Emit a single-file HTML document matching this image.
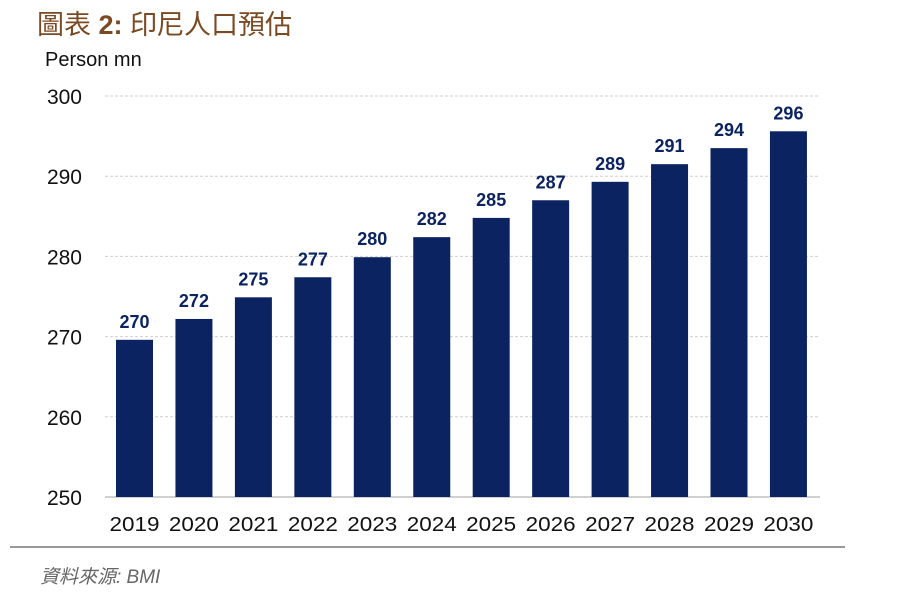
<!DOCTYPE html>
<html><head><meta charset="utf-8"><style>
body{margin:0;background:#fff;width:905px;height:608px;overflow:hidden}
svg{display:block}
</style></head><body>
<svg width="905" height="608" xmlns="http://www.w3.org/2000/svg">
<text x="37" y="34" font-family="'Liberation Sans','Noto Sans CJK TC',sans-serif" font-size="27" fill="#7B4A22">圖表 <tspan font-weight="bold">2:</tspan> 印尼人口預估</text>
<text x="45" y="66" font-family="'Liberation Sans',sans-serif" font-size="20" fill="#111">Person mn</text>
<g id="grid"></g><g id="bars"></g><g id="labels"></g>
<line x1="10" y1="547" x2="845" y2="547" stroke="#999" stroke-width="2"/>
<text x="40" y="583" font-family="'Liberation Sans','Noto Sans CJK TC',sans-serif" font-size="19" font-style="italic" fill="#666">資料來源: BMI</text>
</svg>
<script>
const years=["2019","2020","2021","2022","2023","2024","2025","2026","2027","2028","2029","2030"];
const values=[269.6,272.2,274.9,277.4,279.9,282.4,284.8,287.0,289.3,291.5,293.5,295.6];
const valueLabels=["270","272","275","277","280","282","285","287","289","291","294","296"];
const yTicks=[250,260,270,280,290,300];
const NS="http://www.w3.org/2000/svg";
const y0=497,y1=96,vmin=250,vmax=300;
const yScale=v=>y0-(v-vmin)/(vmax-vmin)*(y0-y1);
const x0=134.5,step=59.45,bw=37;
const xScale=i=>x0+i*step;
function mk(t,a,p){const e=document.createElementNS(NS,t);for(const k in a)e.setAttribute(k,a[k]);p.appendChild(e);return e;}
const grid=document.getElementById('grid'),bars=document.getElementById('bars'),labels=document.getElementById('labels');
yTicks.forEach(t=>{
  const y=yScale(t);
  const l=mk('line',{x1:105,x2:820,y1:y,y2:y,stroke:t===vmin?'#d0d0d0':'#cfcfcf','stroke-width':t===vmin?2:1,'stroke-dasharray':t===vmin?'':'3,2'},grid);
  
  
  const tx=mk('text',{x:82,y:y+8,'text-anchor':'end','font-family':'Liberation Sans,sans-serif','font-size':21,fill:'#111'},grid);
  tx.textContent=t;
  
  
});
years.forEach((yr,i)=>{
  const cx=xScale(i),top=yScale(values[i]);
  const r=mk('rect',{x:cx-bw/2,y:top,width:bw,height:y0-top,fill:'#0B2361'},bars);
  
  
  const v=mk('text',{x:cx,y:top-12,'text-anchor':'middle','font-family':'Liberation Sans,sans-serif','font-size':18,'font-weight':'bold',fill:'#0B2361'},labels);
  v.textContent=valueLabels[i];
  
  
  const xl=mk('text',{x:cx,y:531,'text-anchor':'middle','font-family':'Liberation Sans,sans-serif','font-size':20,fill:'#111',textLength:50,lengthAdjust:'spacingAndGlyphs'},labels);
  xl.textContent=yr;
  
  
});
</script>
</body></html>
